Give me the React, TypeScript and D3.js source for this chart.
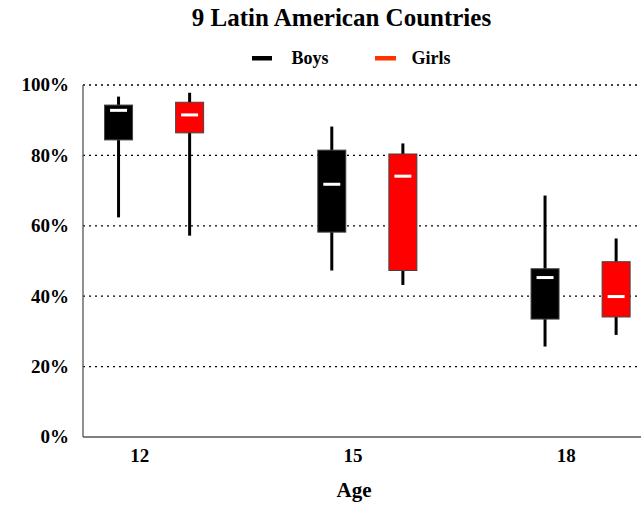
import React from "react";
import * as d3 from "d3";

// Share of children (by age) across 9 Latin American countries
const ages = [12, 15, 18];

const boysMin = [0.624, 0.473, 0.257];
const boysQ1 = [0.844, 0.582, 0.335];
const boysMedian = [0.928, 0.718, 0.453];
const boysQ3 = [0.943, 0.815, 0.478];
const boysMax = [0.967, 0.882, 0.686];

const girlsMin = [0.572, 0.432, 0.29];
const girlsQ1 = [0.864, 0.473, 0.341];
const girlsMedian = [0.915, 0.741, 0.399];
const girlsQ3 = [0.951, 0.804, 0.498];
const girlsMax = [0.978, 0.834, 0.564];

const yTicks = [0, 0.2, 0.4, 0.6, 0.8, 1.0];

const W = 641;
const H = 510;
const FONT = "'Liberation Serif', 'Times New Roman', serif";

type Series = {
  name: string;
  fill: string;
  legendColor: string;
  offset: number;
  min: number[];
  q1: number[];
  median: number[];
  q3: number[];
  max: number[];
};

const series: Series[] = [
  { name: "Boys", fill: "#000000", legendColor: "#000000", offset: -0.3, min: boysMin, q1: boysQ1, median: boysMedian, q3: boysQ3, max: boysMax },
  { name: "Girls", fill: "#ff0000", legendColor: "#ff3300", offset: 0.7, min: girlsMin, q1: girlsQ1, median: girlsMedian, q3: girlsQ3, max: girlsMax },
];

export default function App() {
  const left = 83;
  const right = W;
  const top = 85;
  const bottom = 437;

  const x = d3.scaleLinear().domain([11.2, 19.05]).range([left, right]);
  const y = d3.scaleLinear().domain([0, 1]).range([bottom, top]);
  const fmt = d3.format(".0%");

  const boxW = 28;
  const medW = 17;

  return (
    <svg
      width={W}
      height={H}
      style={{ position: "absolute", left: 0, top: 0, background: "#fff" }}
      fontFamily={FONT}
      fontWeight="bold"
    >
      {/* title */}
      <text x={341.5} y={26} textAnchor="middle" fontSize={25}>
        9 Latin American Countries
      </text>

      {/* legend */}
      <rect x={252} y={56} width={20} height={4.5} fill={series[0].legendColor} />
      <text x={291.5} y={64} fontSize={18}>Boys</text>
      <rect x={375} y={56} width={21} height={4.5} fill={series[1].legendColor} />
      <text x={411.5} y={64} fontSize={18}>Girls</text>

      {/* horizontal grid */}
      {yTicks.filter((t) => t > 0).map((t) => (
        <line
          key={"g" + t}
          x1={left}
          x2={right}
          y1={y(t)}
          y2={y(t)}
          stroke="#000"
          strokeWidth={1.3}
          strokeDasharray="2,4"
        />
      ))}

      {/* y tick labels */}
      {yTicks.map((t) => (
        <text key={"yl" + t} x={69} y={y(t)} dy="0.34em" textAnchor="end" fontSize={19}>
          {fmt(t)}
        </text>
      ))}

      {/* x tick labels */}
      {ages.map((a) => (
        <text key={"xl" + a} x={x(a)} y={462} textAnchor="middle" fontSize={19}>
          {a}
        </text>
      ))}

      <text x={354} y={497} textAnchor="middle" fontSize={21}>Age</text>

      {/* axes */}
      <line x1={left} x2={left} y1={top} y2={bottom} stroke="#555" strokeWidth={1.3} />
      <line x1={left} x2={right} y1={bottom} y2={bottom} stroke="#555" strokeWidth={1.3} />

      {/* candlestick boxes */}
      {series.map((s) =>
        ages.map((a, i) => {
          const cx = x(a + s.offset);
          return (
            <g key={s.name + a}>
              <line x1={cx} x2={cx} y1={y(s.min[i])} y2={y(s.max[i])} stroke="#000" strokeWidth={3} />
              <rect
                x={cx - boxW / 2}
                y={y(s.q3[i])}
                width={boxW}
                height={y(s.q1[i]) - y(s.q3[i])}
                fill={s.fill}
                stroke="#444"
                strokeWidth={1}
              />
              <rect x={cx - medW / 2} y={y(s.median[i]) - 1.5} width={medW} height={3} fill="#fff" />
            </g>
          );
        })
      )}
    </svg>
  );
}
